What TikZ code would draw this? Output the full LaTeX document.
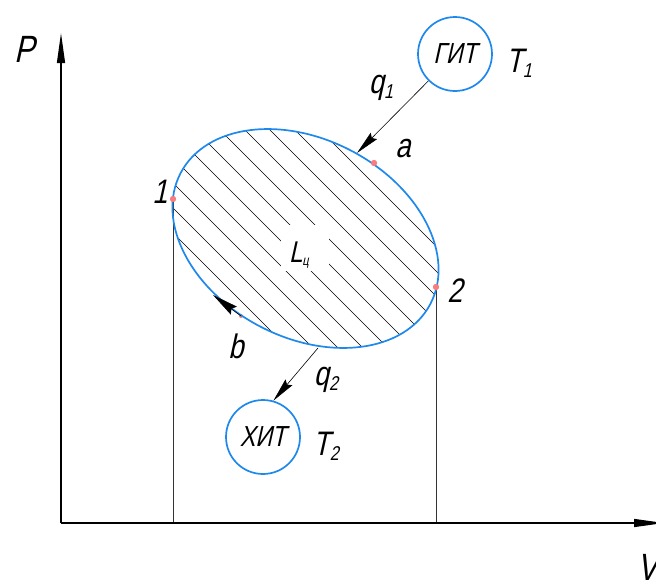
\documentclass[tikz,border=0pt]{standalone}
\usepackage{fontspec}
\newfontfamily\gost{Liberation Sans}[FakeStretch=0.8,FakeSlant=0.22]
\usetikzlibrary{arrows.meta}
\definecolor{eblue}{RGB}{30,136,235}
\definecolor{dotred}{RGB}{250,125,125}
\newcommand\tsz{\fontsize{34}{34}\selectfont}
\newcommand\csz{\fontsize{29}{29}\selectfont}
\newcommand\subs[1]{\raisebox{-5pt}{\fontsize{20}{20}\selectfont #1}}
\begin{document}
\begin{tikzpicture}[x=1pt,y=-1pt,font=\gost\tsz,
  axisline/.style={line width=1.3pt,-{Triangle[length=30pt,width=8pt]}},
  qarrow/.style={line width=0.6pt,-{Stealth[length=24pt,width=9pt,inset=3pt]}},
  hatchline/.style={line width=0.6pt,black},
  projline/.style={line width=0.8pt,black!80},
  cyc/.style={eblue,line width=1.7pt},
  src/.style={circle,draw=eblue,line width=1.7pt,minimum size=74pt,inner sep=0pt,font=\gost\csz},
  dot/.style={circle,fill=dotred,minimum size=6pt,inner sep=0pt},
  lbl/.style={anchor=base,inner sep=0pt}]
\useasboundingbox (0,0) rectangle (656,582);
\coordinate (c) at (305.5,238.5);
\coordinate (o) at (61,523);
\coordinate (ptip) at (61,33);
\coordinate (vtip) at (664,523);
% hatching
\begin{scope}
  \clip[rotate around={-27.7:(c)}] (c) ellipse [x radius=141, y radius=99];
  \foreach \k in {-14,...,8}
    \draw[hatchline] (240+25*\k,100) -- (520+25*\k,380);
\end{scope}
\node[fill=white,inner sep=0pt,minimum width=48pt,minimum height=46pt] (lc) at (305,248) {};
\node[lbl,font=\gost\fontsize{30}{30}\selectfont] at (299,262) {L\raisebox{-3pt}{\fontsize{14}{14}\selectfont ц}};
% points
\node[dot] (p1) at (173,199) {};
\node[dot] (p2) at (436,287) {};
\node[dot] (pa) at (374,163) {};
\node[dot,minimum size=4pt] (pb) at (241,316) {};
\coordinate (qa) at (357,153);
\coordinate (btip) at (213,295);
\coordinate (q2s) at (318,348);
% projections
\draw[projline] (p1.center) -- (p1 |- o);
\draw[projline] (p2.center) -- (p2 |- o);
% cycle
\draw[cyc,rotate around={-27.7:(c)}] (c) ellipse [x radius=141, y radius=99];
\node[dot] at (p1) {};
\node[dot] at (p2) {};
\node[dot] at (pa) {};
% axes
\draw[axisline] (o) -- (ptip);
\draw[axisline] (o) -- (vtip);
% sources
\node[src] (git) at (455,54) {ГИТ};
\node[src] (xit) at (263,437) {ХИТ};
\draw[qarrow] (git) -- (qa);
\draw[qarrow] (q2s) -- (xit.74);
\draw[line width=0.6pt,-{Stealth[length=26pt,width=10pt,inset=3pt]}] (pb.center) -- (btip);
% labels
\node[lbl] at (25,62) {\fontsize{38}{38}\selectfont P};
\node[lbl] at (519,72) {T\subs{1}};
\node[lbl] at (381,93) {q\subs{1}};
\node[lbl] at (403,157) {a};
\node[lbl] at (160,203) {1};
\node[lbl] at (455,302) {2};
\node[lbl] at (236,358) {b};
\node[lbl] at (326,385) {q\subs{2}};
\node[lbl] at (326,455) {T\subs{2}};
\node[lbl] at (648,580) {\fontsize{38}{38}\selectfont V};
\end{tikzpicture}
\end{document}
